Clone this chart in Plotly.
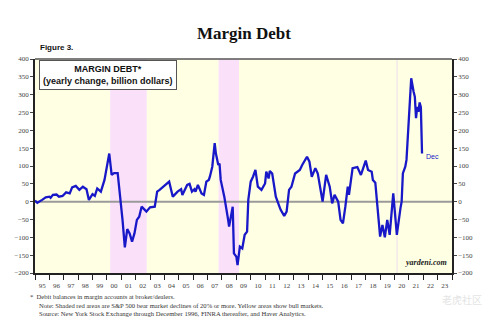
import plotly.graph_objects as go

months = ["1995-01","1995-03","1995-07","1995-10","1996-01","1996-02","1996-04","1996-07","1996-09","1996-12",
          "1997-03","1997-06","1997-08","1997-11","1998-02","1998-05","1998-08","1998-10","1999-01","1999-03",
          "1999-05","1999-08","1999-11","2000-01","2000-03","2000-05","2000-07","2000-10","2000-12","2001-02",
          "2001-04","2001-06","2001-08","2001-10","2001-12","2002-02","2002-04","2002-06","2002-10","2003-01",
          "2003-05","2003-07","2003-09","2003-12","2004-04","2004-05","2004-08","2004-12","2005-03","2005-04",
          "2005-08","2005-10","2005-12","2006-02","2006-03","2006-05","2006-08","2006-10","2006-12","2007-02",
          "2007-03","2007-05","2007-07","2007-08","2007-10","2007-11","2007-12","2008-03","2008-06","2008-07",
          "2008-10","2008-11","2009-01","2009-02","2009-04","2009-06","2009-08","2009-10","2009-11","2010-01",
          "2010-03","2010-05","2010-07","2010-10","2011-01","2011-02","2011-04","2011-05","2011-07","2011-10",
          "2012-01","2012-02","2012-05","2012-07","2012-09","2012-11","2013-02","2013-06","2013-08","2013-12",
          "2014-02","2014-04","2014-07","2014-09","2015-01","2015-04","2015-07","2015-09","2015-11","2016-02",
          "2016-04","2016-06","2016-08","2016-10","2016-11","2017-02","2017-06","2017-09","2018-01","2018-03",
          "2018-06","2018-07","2018-09","2019-01","2019-03","2019-05","2019-07","2019-09","2019-12","2020-03",
          "2020-06","2020-07","2020-08","2020-10","2020-11","2021-03","2021-05","2021-06","2021-07","2021-08",
          "2021-09","2021-10","2021-11","2021-12"]
margin_debt = [3,-3,5,12,14,11,19,20,14,16,
               26,23,40,44,33,42,35,5,21,16,
               37,28,61,94,135,75,80,80,23,-51,
               -128,-77,-89,-112,-89,-51,-42,-14,-28,-16,
               -14,28,33,42,53,56,14,28,35,19,
               47,50,28,35,28,47,23,19,56,61,
               70,98,164,135,103,107,61,14,-47,-70,
               -14,-145,-154,-178,-126,-131,-93,-84,5,56,
               70,89,42,33,51,84,65,86,79,14,
               -14,-23,-40,-28,33,42,79,89,103,126,
               112,70,94,79,0,75,42,-5,19,0,
               -51,-61,-14,42,19,94,97,75,115,89,
               84,61,53,-98,-65,-100,-51,-93,23,-93,
               -18,0,79,98,117,346,308,294,234,266,
               252,278,265,135]

bear_starts = ["2000-03-24", "2007-10-09", "2020-02-19"]
bear_ends = ["2002-10-09", "2009-03-09", "2020-03-23"]
bull_starts = ["1995-01-01", "2002-10-09", "2009-03-09", "2020-03-23"]
bull_ends = ["2000-03-24", "2007-10-09", "2020-02-19", "2024-01-01"]

y_ticks = list(range(-200, 401, 50))

fig = go.Figure()

fig.add_trace(go.Scatter(x=months, y=margin_debt, mode="lines",
                         line=dict(color="#1818c8", width=2.3), showlegend=False, hoverinfo="skip"))
fig.add_trace(go.Scatter(x=[months[0]], y=[margin_debt[0]], yaxis="y2", mode="markers",
                         marker=dict(opacity=0), showlegend=False, hoverinfo="skip"))

shapes = []
for s, e in zip(bull_starts, bull_ends):
    shapes.append(dict(type="rect", xref="x", yref="paper", x0=s, x1=e, y0=0, y1=1,
                       fillcolor="#FFFFE3", line_width=0, layer="below"))
for i, (s, e) in enumerate(zip(bear_starts, bear_ends)):
    shapes.append(dict(type="rect", xref="x", yref="paper", x0=s, x1=e, y0=0, y1=1,
                       fillcolor="#F2E6E0" if i == 2 else "#FAE1F9", line_width=0, layer="below"))
shapes.append(dict(type="line", xref="paper", yref="y", x0=0, x1=1, y0=0, y1=0,
                   line=dict(color="#9a9a9a", width=2), layer="below"))
shapes.append(dict(type="line", xref="paper", yref="paper", x0=0, x1=1, y0=1, y1=1,
                   line=dict(color="#555555", width=1.5)))

tick_font = dict(family="Liberation Serif, serif", size=7, color="#444444")

fig.update_layout(
    width=488, height=323,
    margin=dict(l=35, r=36, t=59, b=50),
    paper_bgcolor="white", plot_bgcolor="white",
    shapes=shapes,
    xaxis=dict(type="date", range=["1995-01-01", "2024-01-01"], dtick="M12", tick0="1995-01-01",
               tickformat="%y", ticklabelmode="period", ticks="outside", ticklen=5, tickwidth=1,
               tickcolor="#222", showline=True, linecolor="#222", linewidth=1.5, showgrid=False,
               zeroline=False, tickfont=tick_font),
    yaxis=dict(range=[-200, 400], tickvals=y_ticks, ticks="outside", ticklen=3, tickcolor="#444",
               showline=True, linecolor="#222", linewidth=1.5, showgrid=False, zeroline=False,
               tickfont=tick_font),
    yaxis2=dict(range=[-200, 400], tickvals=y_ticks, overlaying="y", side="right", ticks="outside",
                ticklen=3, tickcolor="#444", showline=True, linecolor="#222", linewidth=1.5,
                showgrid=False, zeroline=False, tickfont=tick_font),
)

foot_font = dict(family="Liberation Serif, serif", size=6.6, color="#333")

annots = [
    dict(text="<b>Margin Debt</b>", xref="paper", yref="paper", x=(244-35)/417, y=1 + (59-33)/214,
         showarrow=False, xanchor="center", yanchor="middle",
         font=dict(family="Liberation Serif, serif", size=17, color="#111")),
    dict(text="<b>Figure 3.</b>", xref="paper", yref="paper", x=(38-35)/417, y=1 + (59-47)/214,
         showarrow=False, xanchor="left", yanchor="middle",
         font=dict(family="Liberation Sans, Arial, sans-serif", size=8, color="#111")),
    dict(text="<b>MARGIN DEBT*</b><br><b>(yearly change, billion dollars)</b>", xref="paper", yref="paper",
         x=(39-35)/417, y=1 - (60-59)/214, showarrow=False, xanchor="left", yanchor="top", align="center",
         font=dict(family="Liberation Sans, Arial, sans-serif", size=9, color="#111"),
         bgcolor="white", bordercolor="#555", borderwidth=1, borderpad=3),
    dict(text="Dec", xref="x", yref="y", x="2022-01-15", y=margin_debt[-1] - 8, showarrow=False,
         xanchor="left", yanchor="middle", font=dict(family="Liberation Sans, Arial, sans-serif", size=7, color="#1818c8")),
    dict(text="<b><i>yardeni.com</i></b>", xref="paper", yref="paper", x=1 - 3/417, y=0.02,
         showarrow=False, xanchor="right", yanchor="bottom",
         font=dict(family="Liberation Serif, serif", size=8, color="#222")),
    dict(text="*  Debit balances in margin accounts at broker/dealers.", xref="paper", yref="paper",
         x=-(35-28)/417, y=-(296-273)/214, showarrow=False, xanchor="left", yanchor="middle", font=foot_font),
    dict(text="Note: Shaded red areas are S&amp;P 500 bear market declines of 20% or more. Yellow areas show bull markets.",
         xref="paper", yref="paper", x=(37-35)/417, y=-(305-273)/214, showarrow=False, xanchor="left",
         yanchor="middle", font=foot_font),
    dict(text="Source: New York Stock Exchange through December 1996, FINRA thereafter, and Haver Analytics.",
         xref="paper", yref="paper", x=(37-35)/417, y=-(313-273)/214, showarrow=False, xanchor="left",
         yanchor="middle", font=foot_font),
    dict(text="老虎社区", xref="paper", yref="paper", x=1 + (484-452)/417, y=-(299-273)/214,
         showarrow=False, xanchor="right", yanchor="middle",
         font=dict(family="Noto Sans CJK SC", size=10, color="#e4e4e4")),
]
for a in annots:
    fig.add_annotation(**a)

fig.write_html("out.html")
